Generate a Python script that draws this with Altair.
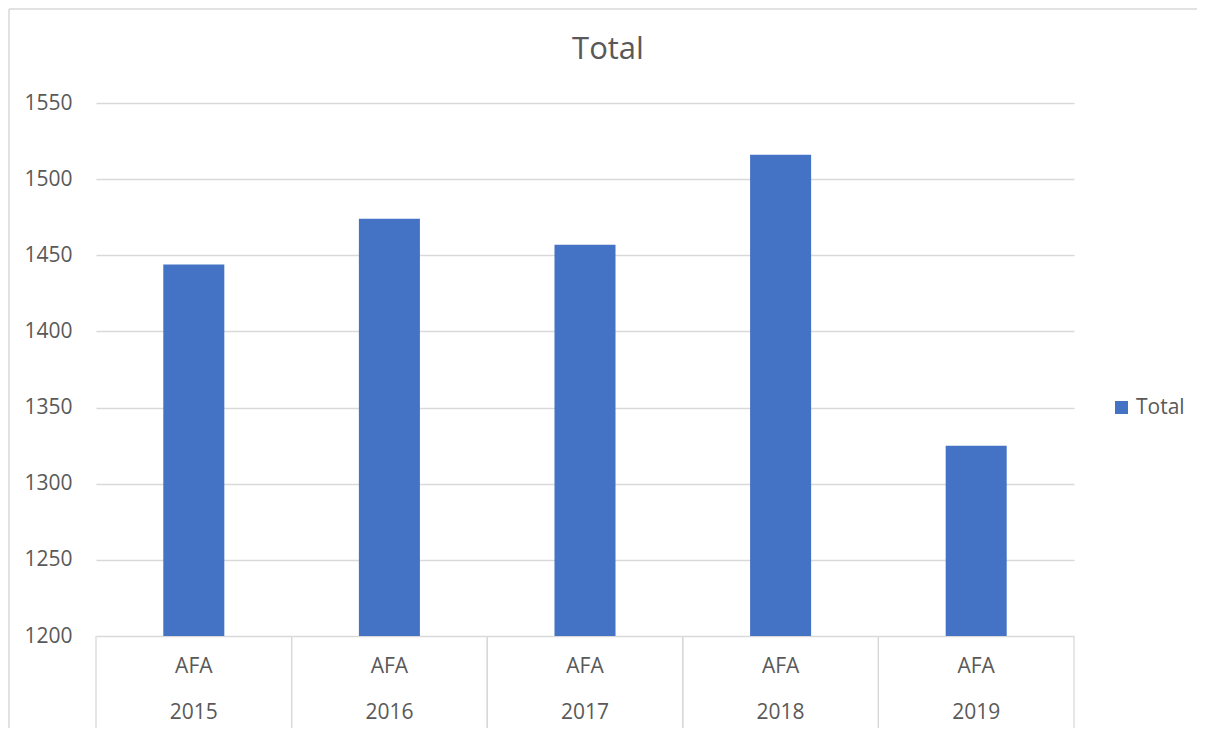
import altair as alt
import pandas as pd

years = ["2015", "2016", "2017", "2018", "2019"]
groups = ["AFA", "AFA", "AFA", "AFA", "AFA"]
totals = [1444, 1474, 1457, 1516, 1325]
series = ["Total"] * 5
y_ticks = [1200, 1250, 1300, 1350, 1400, 1450, 1500, 1550]
chart_title = ["Total"]

df = pd.DataFrame({"year": years, "group": groups, "value": totals, "series": series})
one = pd.DataFrame({"title": chart_title})

W, H = 978, 533
FONT = "Open Sans"
GREY = "#595959"
LINE = "#d9d9d9"

xscale = alt.Scale(paddingInner=0, paddingOuter=0)
x_enc = alt.X("year:O", axis=None, scale=xscale)

bars = alt.Chart(df).mark_bar(color="#4472C4", clip=True,
                              width=alt.RelativeBandSize(0.312)).encode(
    x=x_enc,
    y=alt.Y("value:Q",
            scale=alt.Scale(domain=[1200, 1550], nice=False, zero=False),
            axis=alt.Axis(values=y_ticks, title=None, domain=False, ticks=False, format="d",
                          labelPadding=24, labelFont=FONT, labelFontSize=21,
                          labelColor=GREY, gridColor=LINE, gridWidth=1.3)),
    y2=alt.datum(1200),
    color=alt.Color("series:N", scale=alt.Scale(range=["#4472C4"]),
                    legend=alt.Legend(title=None, orient="none", legendX=1015, legendY=294,
                                      symbolType="square", symbolSize=169,
                                      labelFont=FONT, labelFontSize=21, labelColor=GREY,
                                      labelOffset=4, padding=0)),
)

label_afa = alt.Chart(df).mark_text(font=FONT, fontSize=21, color=GREY,
                                    baseline="middle", clip=False).encode(
    x=x_enc, y=alt.value(H + 31), text="group:N")
label_year = alt.Chart(df).mark_text(font=FONT, fontSize=21, color=GREY,
                                     baseline="middle", clip=False).encode(
    x=x_enc, y=alt.value(H + 77), text="year:N")

div_left = alt.Chart(df).mark_rule(color=LINE, strokeWidth=1.3, clip=False).encode(
    x=alt.X("year:O", bandPosition=0, axis=None, scale=xscale),
    y=alt.value(H), y2=alt.value(H + 92))
div_right = alt.Chart(df).mark_rule(color=LINE, strokeWidth=1.3, clip=False).encode(
    x=alt.X("year:O", bandPosition=1, axis=None, scale=xscale),
    y=alt.value(H), y2=alt.value(H + 92))

title_mark = alt.Chart(one).mark_text(font=FONT, fontSize=31, color=GREY,
                                      baseline="middle", align="center", clip=False).encode(
    x=alt.value(512), y=alt.value(-53), text="title:N")

border_top = alt.Chart(one).mark_rule(color=LINE, strokeWidth=1.5, clip=False).encode(
    x=alt.value(-87), x2=alt.value(1120), y=alt.value(-94))
border_left = alt.Chart(one).mark_rule(color=LINE, strokeWidth=1.5, clip=False).encode(
    x=alt.value(-87), y=alt.value(-94), y2=alt.value(640))

chart = alt.layer(border_top, border_left, title_mark, bars, div_left, div_right,
                  label_afa, label_year).properties(
    width=W, height=H,
    background="white",
    autosize=alt.AutoSizeParams(type="none"),
    padding={"left": 88, "top": 95, "right": 123, "bottom": 92},
).configure_view(stroke=None)

chart.save("out.html", embed_options={"renderer": "svg", "actions": False})
